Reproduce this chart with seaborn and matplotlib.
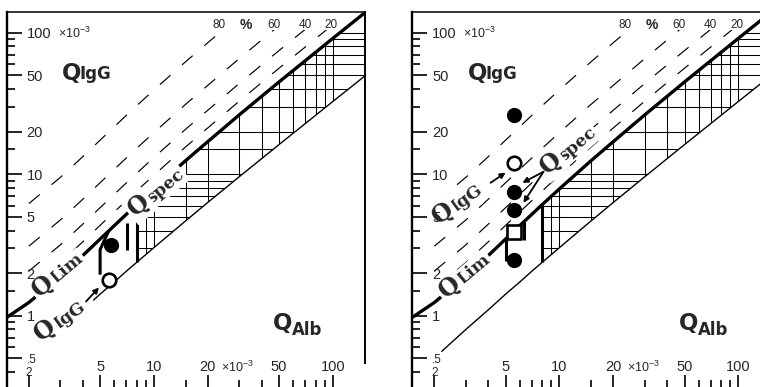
import numpy as np
import pandas as pd
import matplotlib
matplotlib.use("Agg")
import matplotlib.pyplot as plt
import seaborn as sns
from matplotlib.patches import Polygon, Rectangle
from matplotlib.textpath import TextPath
from matplotlib.font_manager import FontProperties

# ---------------- data (QAlb and QIgG in units of 10^-3) ----------------
qlim_alb = [1.5, 2, 3, 4, 5, 5.6, 6, 7, 8, 10, 15, 20, 30, 50, 100, 150]
qlim_igg = [0.97, 1.24, 1.90, 2.66, 3.48, 3.98, 4.33, 5.20, 6.09, 7.88, 12.45, 17.0, 26.3, 44.9, 91.3, 137.8]
qlow_alb = [2.2, 3, 4, 4.6, 5, 6, 7, 8, 10, 15, 20, 30, 50, 100, 150]
qlow_igg = [0.56, 0.80, 1.10, 1.29, 1.42, 1.73, 2.06, 2.38, 3.03, 4.67, 6.32, 9.61, 16.2, 32.7, 49.2]
intrathecal_fraction = [0.2, 0.4, 0.6, 0.8]
dashed_start_alb = 2
dashed_top_igg = 105
pct_labels = ["80", "%", "60", "40", "20"]
pct_label_alb = [23.1, 32.7, 46.8, 69.8, 97.5]
pct_label_igg = 113
hatch_from_alb = 8

x_major = [2, 5, 10, 20, 50, 100]
x_major_labels = ["2", "5", "10", "20", "50", "100"]
x_minor = [3, 4, 6, 7, 8, 9, 15, 30, 40, 60, 70, 80, 90]
y_major = [0.5, 1, 2, 5, 10, 20, 50, 100]
y_major_labels = [".5", "1", "2", "5", "10", "20", "50", "100"]
y_minor = [0.3, 0.4, 0.6, 0.7, 0.8, 0.9, 1.5, 3, 4, 6, 7, 8, 9, 15, 30, 40, 60, 70, 80, 90]

# left panel patient
left_filled_alb, left_filled_igg = [5.75], [3.18]
left_open_alb, left_open_igg = [5.6], [1.80]
left_square_alb, left_square_igg = [], []
left_bars = [([5.6, 5.0, 5.0], [4.0, 2.93, 1.95]),
             ([7.1, 7.1], [4.5, 2.9]),
             ([8, 8], [2.38, 6.09])]
left_arrows = [((4.17, 1.26), (4.93, 1.58))]
left_qlow_start = 4.6
left_text = {"QLim": (2.3, 1.34, 40), "QIgG": (2.34, 0.655, 36), "Qspec": (7.9, 4.95, 40)}

# right panel patients
right_filled_alb, right_filled_igg = [5.6, 5.6, 5.6, 5.6], [26.3, 7.5, 5.6, 2.49]
right_open_alb, right_open_igg = [5.6], [12.0]
right_square_alb, right_square_igg = [5.6], [3.93]
right_bars = [([5, 5], [3.48, 2.45]),
              ([6.3, 6.3], [4.6, 3.4]),
              ([8, 8], [2.38, 6.09])]
right_arrows = [((4.12, 8.7), (5.0, 10.25)),
                ((8.14, 10.4), (6.21, 8.7)),
                ((8.14, 10.4), (6.29, 6.29))]
right_qlow_start = 2.2
right_text = {"QLim": (2.33, 1.32, 40), "QIgG": (2.11, 4.40, 36), "Qspec": (8.6, 9.8, 40)}

# ---------------- style ----------------
sns.set_style("white")
plt.rcParams.update({
    "font.family": ["Liberation Sans", "DejaVu Sans"],
    "mathtext.fontset": "custom",
    "mathtext.rm": "Liberation Sans",
    "mathtext.it": "Liberation Sans:italic",
    "mathtext.bf": "Liberation Sans:bold",
    "axes.edgecolor": "black",
    "xtick.bottom": True,
    "ytick.left": True,
})

W, H = 760, 387
fig = plt.figure(figsize=(7.6, 3.87), dpi=100)
fig.patch.set_facecolor("white")


def add_panel(left_px):
    return fig.add_axes([left_px / W, 1 - 389.7 / H, 358 / W, 377.7 / H])


SERIF = "DejaVu Serif"
WHITE_BOX = dict(boxstyle="square,pad=0.12", fc="white", ec="none")


def serif_label(ax, x, y, rot, big, small, big_size=17, small_size=12.5):
    fp = FontProperties(family=SERIF, weight="bold", size=big_size)
    w = TextPath((0, 0), big, prop=fp).get_extents().x1 + 0.8
    th = np.deg2rad(rot)
    ax.annotate(small, xy=(x, y), xytext=(w * np.cos(th), w * np.sin(th)),
                textcoords="offset points", rotation=rot, rotation_mode="anchor",
                ha="left", va="baseline", fontsize=small_size, family=SERIF,
                weight="bold", bbox=WHITE_BOX, zorder=6)
    ax.text(x, y, big, rotation=rot, rotation_mode="anchor", ha="left",
            va="baseline", fontsize=big_size, family=SERIF, weight="bold",
            bbox=WHITE_BOX, zorder=6.1)


def draw_panel(ax, p):
    ax.set_xscale("log")
    ax.set_yscale("log")
    ax.set_xlim(1.5, 150)
    ax.set_ylim(0.3, 140)

    lim = pd.DataFrame({"alb": qlim_alb, "igg": qlim_igg})
    low = pd.DataFrame({"alb": qlow_alb, "igg": qlow_igg})

    # cross-hatched barrier dysfunction region
    up = lim[lim.alb >= hatch_from_alb]
    lo = low[low.alb >= hatch_from_alb]
    verts = np.vstack([lo[["alb", "igg"]].to_numpy(), up[["alb", "igg"]].to_numpy()[::-1]])
    region = Polygon(verts, closed=True, transform=ax.transData)
    grid_x = [v for v in sorted(x_major + x_minor) if v > hatch_from_alb]
    grid_y = sorted(y_major + y_minor)
    for gx in grid_x:
        ln = ax.axvline(gx, color="black", lw=0.75, zorder=1)
        ln.set_clip_path(region)
    for gy in grid_y:
        ln = ax.axhline(gy, color="black", lw=0.75, zorder=1)
        ln.set_clip_path(region)

    # dashed intrathecal fraction lines
    cap = Rectangle((1, 0.1), 300, dashed_top_igg - 0.1, transform=ax.transData)
    base = lim[lim.alb >= dashed_start_alb]
    for f in intrathecal_fraction:
        sns.lineplot(x=base.alb.to_numpy(), y=(base.igg / (1 - f)).to_numpy(), ax=ax,
                     color="black", lw=0.85, estimator=None, sort=False, zorder=2)
        line = ax.lines[-1]
        line.set_linestyle((0, (12, 13)))
        line.set_clip_path(cap)

    # lower bound line
    lw_ = low[low.alb >= p["qlow_start"]]
    sns.lineplot(x=lw_.alb.to_numpy(), y=lw_.igg.to_numpy(), ax=ax, color="black",
                 lw=1.0, estimator=None, sort=False, zorder=3)
    # QLim thick line
    sns.lineplot(x=lim.alb.to_numpy(), y=lim.igg.to_numpy(), ax=ax, color="black",
                 lw=2.4, estimator=None, sort=False, zorder=4)
    ax.lines[-1].set_solid_capstyle("butt")

    for bx, by in p["bars"]:
        ax.plot(bx, by, color="black", lw=2.2, solid_capstyle="butt", zorder=4)

    # labels for fraction lines
    for lab, xv in zip(pct_labels, pct_label_alb):
        if lab == "%":
            ax.text(xv, pct_label_igg, lab, ha="center", va="center", fontsize=10,
                    weight="bold")
        else:
            ax.text(xv, pct_label_igg, lab, ha="center", va="center", fontsize=8.5)

    # rotated serif labels
    t = p["text"]
    serif_label(ax, *t["QLim"], "Q", "Lim")
    serif_label(ax, *t["QIgG"], "Q", "IgG")
    serif_label(ax, *t["Qspec"], "Q", "spec")

    for (x0, y0), (x1, y1) in p["arrows"]:
        ax.annotate("", xy=(x1, y1), xytext=(x0, y0),
                    arrowprops=dict(arrowstyle="-|>", color="black", lw=1.3,
                                    mutation_scale=8, shrinkA=0, shrinkB=0),
                    zorder=7)

    # patient markers
    if p["filled"][0]:
        sns.scatterplot(x=p["filled"][0], y=p["filled"][1], ax=ax, s=120,
                        color="black", edgecolor="black", linewidth=0, zorder=8)
    if p["open"][0]:
        sns.scatterplot(x=p["open"][0], y=p["open"][1], ax=ax, s=95,
                        color="white", edgecolor="black", linewidth=1.9, zorder=8)
    if p["square"][0]:
        sns.scatterplot(x=p["square"][0], y=p["square"][1], ax=ax, s=110, marker="s",
                        color="white", edgecolor="black", linewidth=1.9, zorder=8)

    # axis titles
    ax.text(3.06, 46.3, "Q", ha="left", va="baseline", fontsize=16.5,
            family="DejaVu Sans", weight="bold")
    ax.annotate("IgG", xy=(3.06, 46.3), xytext=(12.8, 0.7), textcoords="offset points",
                ha="left", va="baseline", fontsize=12, family="DejaVu Sans", weight="bold")
    ax.text(46.2, 0.792, "Q", ha="left", va="baseline", fontsize=16.5,
            family="DejaVu Sans", weight="bold")
    ax.annotate("Alb", xy=(46.2, 0.792), xytext=(13.8, -3.6), textcoords="offset points",
                ha="left", va="baseline", fontsize=12, family="DejaVu Sans", weight="bold")

    # unit annotations
    ax.annotate(r"×10$^{-3}$", xy=(0, 100), xycoords=("axes fraction", "data"),
                xytext=(37, -0.5), textcoords="offset points", ha="left", va="center",
                fontsize=9)
    ax.annotate(r"×10$^{-3}$", xy=(20, 0), xycoords=("data", "axes fraction"),
                xytext=(9.5, 13.0), textcoords="offset points", ha="left", va="baseline",
                fontsize=9)

    # ticks
    ax.set_xticks(x_major, labels=x_major_labels)
    ax.set_xticks(x_minor, labels=[""] * len(x_minor), minor=True)
    ax.set_yticks(y_major, labels=y_major_labels)
    ax.set_yticks(y_minor, labels=[""] * len(y_minor), minor=True)
    ax.tick_params(axis="both", which="both", direction="in", color="black",
                   bottom=True, left=True, top=False, right=False)
    ax.tick_params(axis="x", which="major", length=11, width=1.2, pad=-16.3, labelsize=10.5)
    ax.tick_params(axis="x", which="minor", length=7.0, width=1.2)
    ax.tick_params(axis="y", which="major", length=11, width=1.2, pad=-14.4, labelsize=10.5)
    ax.tick_params(axis="y", which="minor", length=6, width=1.2)
    for lab in ax.get_yticklabels():
        lab.set_horizontalalignment("left")
    for lab in ax.get_xticklabels():
        lab.set_verticalalignment("center")
    first_x = ax.get_xticklabels()[0]
    first_x.set_fontsize(8.5)
    first_x.set_verticalalignment("top")
    ax.get_yticklabels()[0].set_fontsize(8.5)
    ax.set_xlabel("")
    ax.set_ylabel("")
    ax.xaxis.set_zorder(7)
    ax.yaxis.set_zorder(7)

    ax.spines["bottom"].set_visible(False)
    ax.spines["left"].set_linewidth(1.7)
    ax.spines["top"].set_linewidth(1.1)
    ax.spines["right"].set_linewidth(1.4)
    ax.spines["right"].set_bounds(0.46, 140)
    ax.set_facecolor("white")
    ax.set_xlim(1.5, 150)
    ax.set_ylim(0.3, 140)


ax_l = add_panel(6.5)
ax_r = add_panel(412)

draw_panel(ax_l, {
    "filled": (left_filled_alb, left_filled_igg),
    "open": (left_open_alb, left_open_igg),
    "square": (left_square_alb, left_square_igg),
    "bars": left_bars, "arrows": left_arrows,
    "qlow_start": left_qlow_start, "text": left_text,
})
draw_panel(ax_r, {
    "filled": (right_filled_alb, right_filled_igg),
    "open": (right_open_alb, right_open_igg),
    "square": (right_square_alb, right_square_igg),
    "bars": right_bars, "arrows": right_arrows,
    "qlow_start": right_qlow_start, "text": right_text,
})

fig.savefig("out.png", dpi=100)
